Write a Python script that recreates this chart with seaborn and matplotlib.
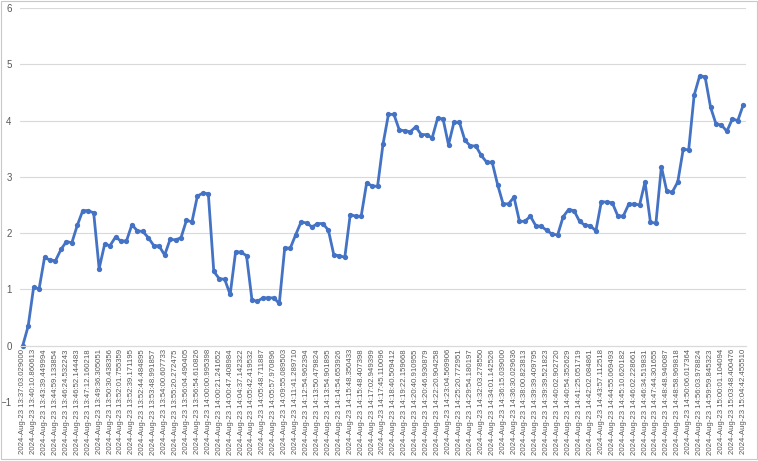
import numpy as np
import pandas as pd
import seaborn as sns
import matplotlib.pyplot as plt
from matplotlib.patches import Rectangle

# values, one per sample (133 samples)
values = [
    0.00, 0.35, 1.04, 1.01, 1.57, 1.52, 1.51, 1.71, 1.85, 1.83,
    2.14, 2.40, 2.40, 2.36, 1.37, 1.80, 1.78, 1.93, 1.86, 1.86,
    2.15, 2.04, 2.03, 1.92, 1.78, 1.77, 1.61, 1.89, 1.88, 1.92,
    2.23, 2.20, 2.66, 2.71, 2.70, 1.32, 1.19, 1.18, 0.91, 1.67,
    1.66, 1.60, 0.81, 0.79, 0.85, 0.85, 0.85, 0.75, 1.74, 1.73,
    1.97, 2.20, 2.18, 2.11, 2.17, 2.17, 2.05, 1.61, 1.60, 1.57,
    2.33, 2.30, 2.30, 2.89, 2.84, 2.83, 3.58, 4.11, 4.11, 3.83,
    3.82, 3.80, 3.89, 3.75, 3.75, 3.69, 4.04, 4.03, 3.57, 3.97,
    3.97, 3.65, 3.55, 3.55, 3.38, 3.26, 3.26, 2.86, 2.52, 2.52,
    2.64, 2.21, 2.21, 2.30, 2.13, 2.12, 2.05, 1.98, 1.97, 2.29,
    2.42, 2.40, 2.21, 2.14, 2.13, 2.04, 2.56, 2.55, 2.54, 2.31,
    2.30, 2.51, 2.52, 2.50, 2.91, 2.19, 2.18, 3.18, 2.74, 2.73,
    2.91, 3.49, 3.48, 4.45, 4.79, 4.78, 4.24, 3.94, 3.92, 3.81,
    4.03, 4.00, 4.28,
]

# labels shown on the axis (every second sample)
tick_times = [
    "13:37:03.029000", "13:40:10.860613", "13:43:39.449994", "13:44:59.133854",
    "13:46:24.532243", "13:46:52.144483", "13:47:12.160218", "13:49:36.305051",
    "13:50:30.438356", "13:52:01.755359", "13:52:39.171195", "13:52:44.484895",
    "13:53:48.991857", "13:54:00.607733", "13:55:20.272475", "13:56:04.490405",
    "13:56:54.610826", "14:00:00.995398", "14:00:21.241652", "14:00:47.408984",
    "14:04:37.142322", "14:05:42.419532", "14:05:48.711887", "14:05:57.970896",
    "14:09:55.089503", "14:11:41.289710", "14:12:54.962394", "14:13:50.479824",
    "14:13:54.901895", "14:14:54.653926", "14:15:48.350433", "14:15:48.407398",
    "14:17:02.949399", "14:17:45.110096", "14:18:40.509412", "14:19:22.159668",
    "14:20:40.910955", "14:20:46.930879", "14:22:20.904258", "14:23:04.569906",
    "14:25:20.772951", "14:29:54.180197", "14:32:03.278550", "14:34:01.142526",
    "14:36:15.039000", "14:36:30.029636", "14:38:00.823813", "14:39:39.409795",
    "14:39:39.521823", "14:40:02.902720", "14:40:54.352629", "14:41:25.051719",
    "14:42:02.084861", "14:43:57.112518", "14:44:55.069493", "14:45:10.620182",
    "14:46:02.228661", "14:46:34.519831", "14:47:44.301655", "14:48:48.940087",
    "14:48:58.969818", "14:50:06.017364", "14:56:03.978824", "14:59:59.845323",
    "15:00:01.104094", "15:03:48.400476", "15:04:42.455510",
]
tick_labels = ["2024-Aug-23 " + t for t in tick_times]

sns.set_style("white")
plt.rcParams['font.family'] = ['Liberation Sans', 'DejaVu Sans']

df = pd.DataFrame({"idx": np.arange(len(values)), "value": values})

fig = plt.figure(figsize=(7.58, 4.61), dpi=100)
ax = fig.add_axes([20 / 758, 59 / 461, 726 / 758, 394 / 461])

sns.lineplot(data=df, x="idx", y="value", ax=ax, color="#4472C4",
             linewidth=2.0, marker="o", markersize=3.8,
             markeredgewidth=0, markerfacecolor="#4472C4")

ax.set_xlim(-0.5, len(values) - 0.5)
ax.set_ylim(-1, 6)
ax.set_yticks(range(-1, 7))
ax.grid(axis="y", color="#d9d9d9", linewidth=0.8)
ax.set_axisbelow(True)

for s in ["top", "right", "left"]:
    ax.spines[s].set_visible(False)
ax.spines["bottom"].set_position(("data", 0))
ax.spines["bottom"].set_color("#d9d9d9")
ax.spines["bottom"].set_linewidth(0.8)

ax.set_xticks(np.arange(0, len(values), 2))
ax.set_xticklabels(tick_labels, rotation=90, fontsize=5.6, color="#595959")
ax.tick_params(axis="x", length=0, pad=2.5)
ax.tick_params(axis="y", length=0, pad=6, labelsize=7, labelcolor="#595959")
ax.set_xlabel("")
ax.set_ylabel("")

# chart area border
fig.patches.append(Rectangle((0.5 / 758, 2 / 461), 756 / 758, 458 / 461,
                             transform=fig.transFigure, fill=False,
                             edgecolor="#c8c8c8", linewidth=0.8))

fig.savefig("out.png", dpi=100)
